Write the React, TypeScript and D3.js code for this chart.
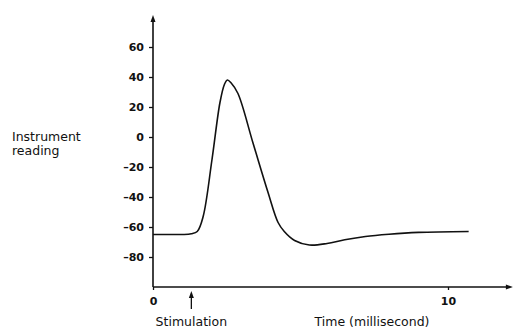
import React, { useEffect, useRef } from 'react'
import { axisBottom, axisLeft, curveCatmullRom, line, scaleLinear, select } from 'd3'

// time (ms) and instrument reading
const tiempos = [0, 0.5, 1.0, 1.3, 1.5, 1.7, 2.0, 2.27, 2.42, 2.52, 2.65, 2.88, 3.39, 3.9, 4.24, 4.45, 4.8, 5.3, 5.9, 6.5, 7.2, 8.0, 9.0, 10.7]
const lecturas = [-65, -65, -65, -64.5, -63, -53, -15, 23, 35, 38, 36, 29, -4, -37, -57, -63, -69, -72, -71, -68.5, -66.3, -64.8, -63.6, -63]
const yTicks = [60, 40, 20, 0, -20, -40, -60, -80]
const xTicks = [0, 10]
const estimulo = 1.3

const App = () => {
    const yAxisRef = useRef<SVGGElement>(null)
    const xAxisRef = useRef<SVGGElement>(null)

    const xScale = scaleLinear().domain([0, 10]).range([153, 448])
    const yScale = scaleLinear().domain([-100, 60]).range([287, 47])

    const linea = line<number>()
        .x((d, i) => xScale(tiempos[i]))
        .y((d) => yScale(d))
        .curve(curveCatmullRom.alpha(0.5))

    useEffect(() => {
        const yAxis = axisLeft(yScale)
            .tickValues(yTicks)
            .tickSize(4)
            .tickPadding(5)
            .tickFormat((d) => (Number(d) < 0 ? '\u2013' + Math.abs(Number(d)) : String(d)))
        const gy = select(yAxisRef.current).call(yAxis)
        gy.select('.domain').remove()
        gy.selectAll('text').attr('font-family', 'DejaVu Sans').attr('font-size', 11).attr('font-weight', 'bold').attr('fill', '#111')
        gy.selectAll('line').attr('stroke', '#111').attr('stroke-width', 1.3)

        const xAxis = axisBottom(xScale)
            .tickValues(xTicks)
            .tickSize(3)
            .tickPadding(7)
        const gx = select(xAxisRef.current).call(xAxis)
        gx.select('.domain').remove()
        gx.selectAll('text').attr('font-family', 'DejaVu Sans').attr('font-size', 11).attr('font-weight', 'bold').attr('fill', '#111')
        gx.selectAll('line').attr('stroke', '#111').attr('stroke-width', 1.3)
    }, [])

    const x0 = xScale(0)
    const y0 = yScale(-100)
    const yTop = yScale(81.3)
    const xEnd = xScale(12.2)
    const xs = xScale(estimulo)

    return (
        <div>
            <style>{'body{margin:0;background:#fff}'}</style>
            <svg width={513} height={329} style={{ display: 'block' }}>
                <rect width={513} height={329} fill="#fff" />
                <g transform={`translate(${x0},0)`} ref={yAxisRef} />
                <g transform={`translate(0,${y0})`} ref={xAxisRef} />
                {/* ejes con flecha */}
                <line x1={x0} y1={y0} x2={x0} y2={yTop + 3} stroke="#111" strokeWidth={1.6} />
                <path d={`M${x0 - 2.5},${yTop + 7} L${x0},${yTop} L${x0 + 2.5},${yTop + 7} Z`} fill="#111" />
                <line x1={x0} y1={y0} x2={xEnd - 3} y2={y0} stroke="#111" strokeWidth={1.6} />
                <path d={`M${xEnd - 7},${y0 - 2.5} L${xEnd},${y0} L${xEnd - 7},${y0 + 2.5} Z`} fill="#111" />

                <path d={linea(lecturas) ?? ''} fill="none" stroke="#111" strokeWidth={1.6} />

                {/* flecha de estimulación */}
                <line x1={xs} y1={309} x2={xs} y2={295} stroke="#111" strokeWidth={1.3} />
                <path d={`M${xs - 2.5},${298} L${xs},${291} L${xs + 2.5},${298} Z`} fill="#111" />

                <g fontFamily="DejaVu Sans" fontSize={12.5} fill="#111">
                    <text x={xs} y={326} textAnchor="middle">Stimulation</text>
                    <text x={372} y={326} textAnchor="middle">Time (millisecond)</text>
                    <text x={12} y={141}>Instrument</text>
                    <text x={12} y={155}>reading</text>
                </g>
            </svg>
        </div>
    )
}

export default App
